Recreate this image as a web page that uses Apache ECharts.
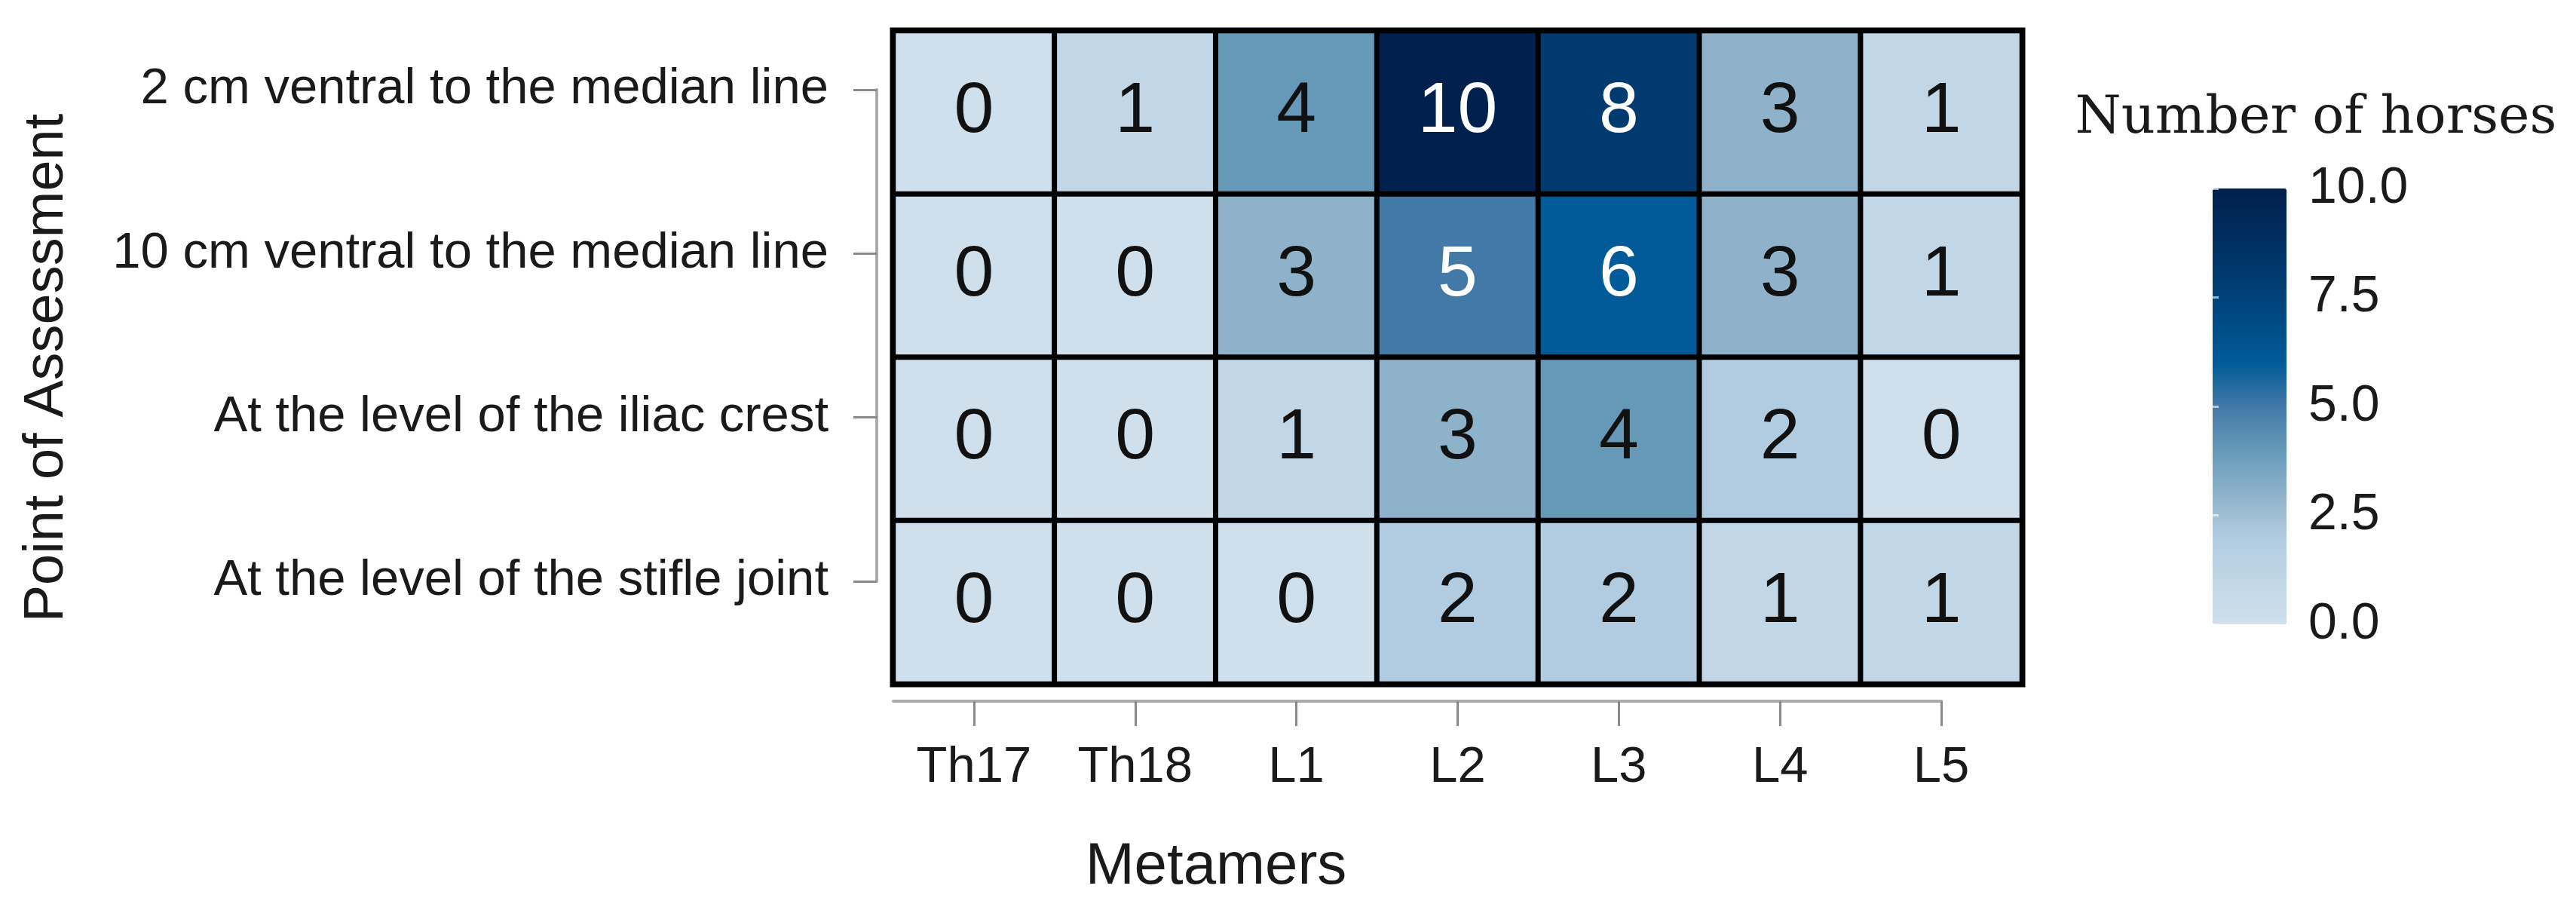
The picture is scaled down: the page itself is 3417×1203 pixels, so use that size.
<!DOCTYPE html>
<html>
<head>
<meta charset="utf-8">
<script src="https://cdn.jsdelivr.net/npm/echarts@6/dist/echarts.min.js"></script>
<style>
  html, body { margin: 0; padding: 0; background: #ffffff; }
  #chart { width: 3417px; height: 1203px; }
</style>
</head>
<body>
<div id="chart"></div>
<script>
// ---- data ----
const metamers = ['Th17', 'Th18', 'L1', 'L2', 'L3', 'L4', 'L5'];
const points = [
  '2 cm ventral to the median line',
  '10 cm ventral to the median line',
  'At the level of the iliac crest',
  'At the level of the stifle joint'
];
const row2cm = [0, 1, 4, 10, 8, 3, 1];
const row10cm = [0, 0, 3, 5, 6, 3, 1];
const rowIliac = [0, 0, 1, 3, 4, 2, 0];
const rowStifle = [0, 0, 0, 2, 2, 1, 1];
const legendTicks = [0, 2.5, 5, 7.5, 10];
const legendTitle = 'Number of horses';
const xTitle = 'Metamers';
const yTitle = 'Point of Assessment';

const rows = [row2cm, row10cm, rowIliac, rowStifle];
const colorStops = ['#cfdfeb', '#c1d6e6', '#b1cce0', '#8db2ca', '#6699b8', '#4379a7',
                    '#005b98', '#004a84', '#003a6f', '#002d5e', '#00204d'];

const heatData = [];
rows.forEach((r, yi) => {
  r.forEach((v, xi) => {
    heatData.push({ value: [xi, yi, v], label: { color: v >= 5 ? '#ffffff' : '#111111' } });
  });
});

const FONT = '"Liberation Sans", Arial, sans-serif';
const axisLineColor = '#ababab';
const tickColor = '#8a8a8a';

const chart = echarts.init(document.getElementById('chart'), null, { renderer: 'canvas' });
chart.setOption({
  animation: false,
  backgroundColor: '#ffffff',
  grid: [
    { left: 1185, top: 41, width: 1497, height: 866, show: true, borderColor: '#000', borderWidth: 9, backgroundColor: 'transparent' },
    { left: 1185, width: 1390, top: 100, height: 830 },
    { left: 1163, width: 50, top: 119, height: 652 },
    { left: 2935, width: 98, top: 250, height: 578 }
  ],
  xAxis: [
    { gridIndex: 0, type: 'category', data: metamers, show: false },
    {
      gridIndex: 1, type: 'value', min: -0.5, max: metamers.length - 1,
      axisLine: { show: true, lineStyle: { color: axisLineColor, width: 4 } },
      axisTick: { show: true, customValues: metamers.map((_, i) => i), length: 33, lineStyle: { color: tickColor, width: 3 } },
      axisLabel: { customValues: metamers.map((_, i) => i), formatter: v => metamers[Math.round(v)], margin: 55,
                   fontSize: 67, fontFamily: FONT, color: '#1a1a1a' },
      splitLine: { show: false }
    },
    { gridIndex: 2, type: 'value', show: false },
    { gridIndex: 3, type: 'value', show: false }
  ],
  yAxis: [
    { gridIndex: 0, type: 'category', data: points, inverse: true, show: false },
    { gridIndex: 1, type: 'value', show: false },
    {
      gridIndex: 2, type: 'category', data: points, inverse: true, boundaryGap: false, position: 'left',
      axisLine: { show: true, lineStyle: { color: axisLineColor, width: 4 } },
      axisTick: { show: true, length: 31, lineStyle: { color: tickColor, width: 3 } },
      axisLabel: { margin: 64, fontSize: 67, fontFamily: FONT, color: '#1a1a1a' },
      splitLine: { show: false }
    },
    {
      gridIndex: 3, type: 'value', min: 0, max: 10, interval: 2.5, position: 'right', z: 10,
      axisLine: { show: false },
      axisTick: { show: true, inside: true, length: 22, lineStyle: { color: '#ffffff', width: 3, opacity: 0.6 } },
      axisLabel: { customValues: legendTicks, formatter: v => v.toFixed(1), margin: 29, fontSize: 68, fontFamily: FONT, color: '#1a1a1a' },
      splitLine: { show: false }
    },
    {
      gridIndex: 3, type: 'value', min: 0, max: 10, interval: 2.5, position: 'left', z: 10,
      axisLine: { show: false },
      axisTick: { show: true, inside: true, length: 8, lineStyle: { color: '#ffffff', width: 3, opacity: 0.6 } },
      axisLabel: { show: false },
      splitLine: { show: false }
    }
  ],
  visualMap: {
    type: 'continuous', min: 0, max: 10, seriesIndex: 0, calculable: false,
    orient: 'vertical', left: 2935, top: 250, itemWidth: 98, itemHeight: 578,
    padding: 0, text: null, showLabel: false, hoverLink: false,
    inRange: { color: colorStops }
  },
  graphic: [
    { type: 'text', x: 63, y: 488, rotation: Math.PI / 2,
      style: { text: yTitle, fontSize: 74, fontFamily: FONT, fill: '#1a1a1a', align: 'center', verticalAlign: 'middle' } },
    { type: 'text', x: 1613, y: 1150,
      style: { text: xTitle, fontSize: 78, fontFamily: FONT, fill: '#1a1a1a', align: 'center', verticalAlign: 'middle' } },
    { type: 'text', x: 3072, y: 158,
      style: { text: legendTitle, fontSize: 70, fontFamily: '"DejaVu Serif", "Liberation Serif", serif', fill: '#1a1a1a', align: 'center', verticalAlign: 'middle' } }
  ],
  series: [{
    type: 'heatmap', xAxisIndex: 0, yAxisIndex: 0, data: heatData,
    itemStyle: { borderColor: '#000000', borderWidth: 7 },
    label: { show: true, fontSize: 95, fontFamily: FONT, formatter: p => String(p.value[2]) },
    emphasis: { disabled: true }
  }]
});
</script>
</body>
</html>
